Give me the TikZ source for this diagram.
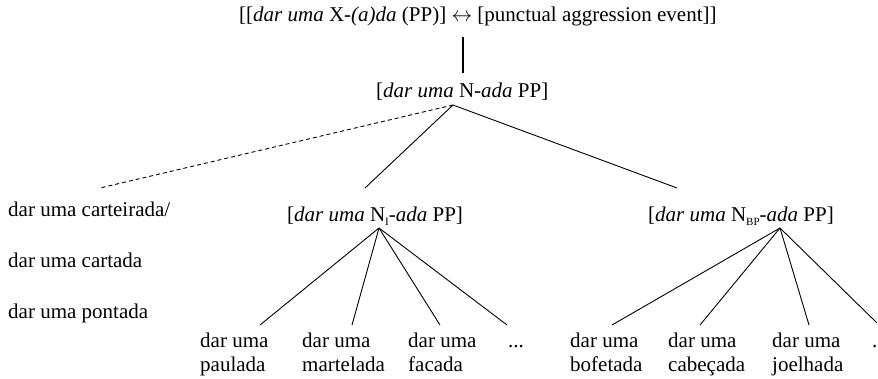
\documentclass[tikz,border=0pt]{standalone}
\usepackage{fontspec}
\setmainfont{Liberation Serif}
\newcommand{\sub}[1]{\raisebox{-0.45ex}{\fontsize{11}{11}\selectfont #1}}

\begin{document}
\begin{tikzpicture}[x=1pt,y=-1pt,
  lab/.style={anchor=base west,inner sep=0pt,font=\fontsize{21}{24}\selectfont},
  leaf/.style={lab,align=left},
  branch/.style={draw,line width=0.9pt}]
\useasboundingbox (0,0) rectangle (878,378);

\node[lab] (top) at (239,21) {[[\textit{dar uma} X-\textit{(a)da} (PP)] $\leftrightarrow$ [punctual aggression event]]};
\node[lab] (nada) at (376,97) {[\textit{dar uma} N-\textit{ada} PP]};
\node[lab] (ni) at (287,221) {[\textit{dar uma} N\sub{I}-\textit{ada} PP]};
\node[lab] (nbp) at (648,221) {[\textit{dar uma} N\sub{BP}-\textit{ada} PP]};

\node[lab] (carteirada) at (8,216) {dar uma carteirada/};
\node[lab] (cartada) at (8,267) {dar uma cartada};
\node[lab] (pontada) at (8,318) {dar uma pontada};

% two-line leaves sit on the baseline of their last line
\node[leaf] (paulada) at (200,371) {dar uma\\paulada};
\node[leaf] (martelada) at (302,371) {dar uma\\martelada};
\node[leaf] (facada) at (408,371) {dar uma\\facada};
\node[lab] (etc1) at (508,347) {...};
\node[leaf] (bofetada) at (570,371) {dar uma\\bofetada};
\node[leaf] (cabecada) at (668,371) {dar uma\\cabeçada};
\node[leaf] (joelhada) at (772,371) {dar uma\\joelhada};
\node[lab] (etc2) at (872,347) {.};

% apexes and line ends
\coordinate (top-foot) at (463,37);
\coordinate (nada-head) at (463,73);
\coordinate (nada-apex) at (453,105);
\coordinate (ni-apex) at (379,228);
\coordinate (nbp-apex) at (780,228);
\coordinate (carteirada-top) at (100,188);
\coordinate (ni-top) at (365,188);
\coordinate (nbp-top) at (677,188);
\coordinate (paulada-top) at (260,325);
\coordinate (martelada-top) at (352,325);
\coordinate (facada-top) at (440,325);
\coordinate (etc1-top) at (507,325);
\coordinate (bofetada-top) at (612,325);
\coordinate (cabecada-top) at (700,325);
\coordinate (joelhada-top) at (809,325);
\coordinate (etc2-top) at (877,323);

\path[draw,line width=2pt] (top-foot) -- (nada-head);
\path[draw,line width=0.9pt,dash pattern=on 4pt off 3pt] (nada-apex) -- (carteirada-top);
\path[branch] (nada-apex) -- (ni-top);
\path[branch] (nada-apex) -- (nbp-top);

\foreach \leaf in {paulada,martelada,facada,etc1}
  \path[branch] (ni-apex) -- (\leaf-top);
\foreach \leaf in {bofetada,cabecada,joelhada,etc2}
  \path[branch] (nbp-apex) -- (\leaf-top);
\end{tikzpicture}
\end{document}
